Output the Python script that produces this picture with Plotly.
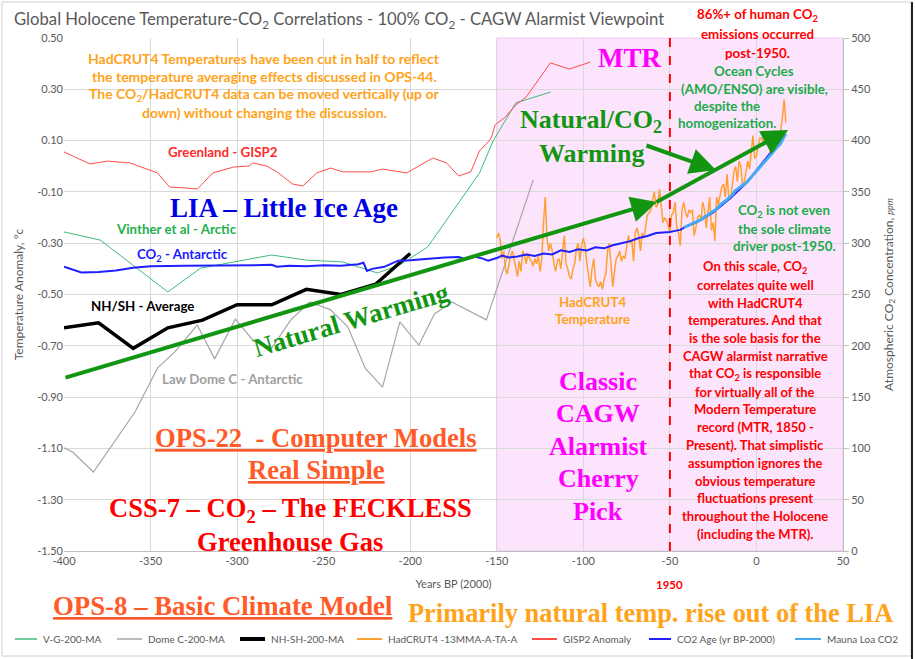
import plotly.graph_objects as go

# ---------------- DATA ----------------
# Years BP (2000): x = year - 2000
gisp2_x = [-400, -385, -375, -362, -346, -339, -329, -323, -314, -302, -293, -291, -283, -277,
           -268, -262, -254, -246, -239, -223, -216, -202, -187, -179, -172, -165, -160, -154,
           -153, -151, -145, -139, -133, -126, -119, -108, -96]
gisp2_y = [0.056, 0.009, 0.020, 0.013, -0.026, -0.081, -0.085, -0.089, -0.026, -0.003, 0.001,
           0.013, 0.001, -0.022, -0.069, -0.077, -0.026, -0.007, -0.022, -0.022, -0.011, -0.026,
           0.032, 0.013, -0.038, -0.022, 0.06, 0.102, 0.114, 0.161, 0.192, 0.239, 0.270, 0.336,
           0.403, 0.379, 0.406]

vinther_x = [-400, -379, -340, -321, -280, -260, -239, -219, -206, -190, -179, -167, -160, -152,
             -139, -119]
vinther_y = [-0.256, -0.288, -0.490, -0.397, -0.346, -0.366, -0.373, -0.416, -0.385, -0.315,
             -0.210, -0.093, -0.026, 0.100, 0.247, 0.289]

domec_x = [-400, -395, -383, -359, -346, -336, -323, -313, -301, -291, -280, -269, -258, -246,
           -236, -226, -216, -206, -195, -186, -176, -156, -129]
domec_y = [-1.098, -1.114, -1.192, -0.958, -0.787, -0.724, -0.619, -0.751, -0.596, -0.677,
           -0.709, -0.599, -0.529, -0.560, -0.627, -0.787, -0.861, -0.607, -0.697, -0.576,
           -0.529, -0.599, -0.054]

nhsh_x = [-400, -380, -360, -340, -320, -300, -280, -260, -240, -220, -200]
nhsh_y = [-0.63, -0.61, -0.71, -0.63, -0.60, -0.54, -0.54, -0.48, -0.50, -0.46, -0.34]

hadcrut_x = list(range(-150, 18))   # 1850 .. 2017
hadcrut_y = [
    -0.28, -0.26, -0.29, -0.36, -0.33, -0.40, -0.42, -0.38, -0.35, -0.33,
    -0.36, -0.40, -0.43, -0.37, -0.41, -0.33, -0.35, -0.38, -0.34, -0.36,
    -0.37, -0.39, -0.36, -0.38, -0.35, -0.41, -0.36, -0.22, -0.12, -0.28,
    -0.33, -0.30, -0.33, -0.38, -0.41, -0.37, -0.36, -0.40, -0.33, -0.27,
    -0.38, -0.40, -0.43, -0.44, -0.40, -0.38, -0.32, -0.30, -0.37, -0.31,
    -0.28, -0.31, -0.38, -0.42, -0.47, -0.40, -0.36, -0.44, -0.46, -0.47,
    -0.45, -0.48, -0.44, -0.42, -0.33, -0.30, -0.40, -0.47, -0.41, -0.36,
    -0.35, -0.33, -0.37, -0.35, -0.36, -0.32, -0.27, -0.30, -0.29, -0.37,
    -0.26, -0.24, -0.27, -0.33, -0.26, -0.28, -0.24, -0.19, -0.18, -0.17,
    -0.13, -0.10, -0.16, -0.15, -0.09, -0.16, -0.22, -0.20, -0.21, -0.23,
    -0.26, -0.19, -0.18, -0.14, -0.24, -0.26, -0.31, -0.17, -0.14, -0.18,
    -0.20, -0.17, -0.18, -0.17, -0.27, -0.24, -0.20, -0.19, -0.21, -0.14,
    -0.17, -0.24, -0.19, -0.12, -0.25, -0.22, -0.29, -0.12, -0.15, -0.11,
    -0.08, -0.07, -0.12, -0.03, -0.12, -0.13, -0.08, -0.02, 0.00, -0.06,
    0.02, 0.00, -0.08, -0.06, -0.02, 0.02, -0.01, 0.05, 0.12, 0.03,
    0.04, 0.08, 0.11, 0.11, 0.09, 0.13, 0.11, 0.12, 0.05, 0.10,
    0.14, 0.07, 0.10, 0.11, 0.14, 0.19, 0.26, 0.17]

co2_x = [-400, -395, -390, -380, -370, -360, -350, -330, -310, -290, -280, -277, -270, -260,
         -250, -240, -230, -227, -225, -222, -215, -207, -200, -190, -180, -172, -168, -163,
         -158, -155, -150, -147, -143, -138, -133, -128, -123, -118, -113, -108, -103, -98,
         -93, -88, -83, -78, -73, -68, -63, -58, -53, -50, -47, -44, -41, -35, -30, -25, -20,
         -15, -10, -5, 0, 5, 10, 15]
co2_ppm = [277, 274, 271.5, 272, 273.5, 276, 277.5, 278, 278, 278.5, 279, 277, 278, 277.5,
           278.5, 278, 279.5, 281, 273, 275, 277, 283, 283.5, 285, 286, 286.5, 284.5, 287,
           285, 283, 285.5, 288, 286, 287, 289, 287.5, 290, 289, 293, 291.5, 294, 293, 296,
           295, 298, 300, 302, 305, 307, 310, 310.5, 311, 312, 313, 316, 320, 325, 330, 337,
           344, 352, 360, 371, 381, 392, 404]

ml_x = [-42, -40, -38, -36, -34, -32, -30, -28, -26, -24, -22, -20, -18, -16, -14, -12, -10,
        -8, -6, -4, -2, 0, 2, 4, 6, 8, 10, 12, 14, 16, 17]
ml_ppm = [315.3, 316.9, 318.4, 319.6, 321.4, 323.0, 325.7, 327.5, 330.2, 332.1, 335.4, 338.8,
          341.1, 344.4, 347.2, 351.6, 354.4, 356.4, 358.8, 362.6, 366.7, 369.7, 373.5, 377.7,
          381.9, 385.6, 389.9, 393.9, 397.2, 404.2, 406.6]

x_ticks = [-400, -350, -300, -250, -200, -150, -100, -50, 0, 50]
y_ticks = [-1.5, -1.3, -1.1, -0.9, -0.7, -0.5, -0.3, -0.1, 0.1, 0.3, 0.5]
y2_ticks = [0, 50, 100, 150, 200, 250, 300, 350, 400, 450, 500]

mtr_start, mtr_end = -150, 50
line_1950 = -50

# ---------------- LAYOUT HELPERS ----------------
W, H = 915, 659
L, R, T, B = 64, 72, 38, 108
PW, PH = W - L - R, H - T - B


def pp(px, py):
    return (px - L) / PW, (H - B - py) / PH


GREY = "#595959"
SANS = "Lato"
SERIF = "Liberation Serif"
annotations = []
shapes = []


def text_lines(lines, cx, y0, dy, size, color, family=SANS, bold=True, underline=False,
               xanchor="center"):
    for i, line in enumerate(lines):
        t = line
        if bold:
            t = "<b>" + t + "</b>"
        if underline:
            t = "<u>" + t + "</u>"
        x, y = pp(cx, y0 + i * dy)
        annotations.append(dict(xref="paper", yref="paper", x=x, y=y, text=t,
                                showarrow=False, xanchor=xanchor, yanchor="middle",
                                font=dict(family=family, size=size, color=color)))


series = [
    ("V-G-200-MA", vinther_x, vinther_y, "#3dbb7a", 1, "y"),
    ("Dome C-200-MA", domec_x, domec_y, "#a6a6a6", 1.2, "y"),
    ("NH-SH-200-MA", nhsh_x, nhsh_y, "black", 3.5, "y"),
    ("HadCRUT4 -13MMA-A-TA-A", hadcrut_x, hadcrut_y, "#ffa033", 1.5, "y"),
    ("GISP2 Anomaly", gisp2_x, gisp2_y, "#ff4a4a", 1, "y"),
    ("CO2 Age (yr BP-2000)", co2_x, co2_ppm, "#1f1fff", 2, "y2"),
    ("Mauna Loa CO2", ml_x, ml_ppm, "#45aaf2", 3, "y2"),
]

fig = go.Figure()
for name, xs, ys, col, wd, ax in series:
    fig.add_trace(go.Scatter(x=xs, y=ys, name=name, mode="lines", yaxis=ax,
                             line=dict(color=col, width=wd), showlegend=False))

# custom single-row legend (line sample start px, text start px)
legend_pos = [(15, 41), (117, 146), (240, 269), (357, 386), (532, 561), (649, 675), (795, 825)]
legend_widths = [1.5, 1.5, 4, 2, 2, 2, 2]
LEG_Y = 639
for (name, xs, ys, col, wd, ax), (lx, tx), lw in zip(series, legend_pos, legend_widths):
    x0, y0 = pp(lx, LEG_Y)
    x1, _ = pp(tx - 4, LEG_Y)
    shapes.append(dict(type="line", xref="paper", yref="paper", x0=x0, x1=x1, y0=y0, y1=y0,
                       line=dict(color=col, width=lw)))
    xt, _ = pp(tx, LEG_Y)
    annotations.append(dict(xref="paper", yref="paper", x=xt, y=y0, text=name, showarrow=False,
                            xanchor="left", yanchor="middle",
                            font=dict(family=SANS, size=10, color=GREY)))

# ---- text ----
B13 = 13.3
text_lines(["Global Holocene Temperature-CO<sub>2</sub> Correlations - 100% CO<sub>2</sub> - CAGW Alarmist Viewpoint"],
           12, 20, 0, 16.7, GREY, bold=False, xanchor="left")
ORANGE = "#ffa31a"
text_lines(["HadCRUT4 Temperatures have been cut in half to reflect",
            "the temperature averaging effects discussed in OPS-44.",
            "The CO<sub>2</sub>/HadCRUT4 data can be moved vertically (up or",
            "down) without changing the discussion."], 264, 58, 18.3, 14, ORANGE)
text_lines(["Greenland - GISP2"], 223, 152, 0, B13, "#ff2a2a")
text_lines(["LIA – Little Ice Age"], 284, 208, 0, 27, "#0000e6", family=SERIF)
text_lines(["Vinther et al - Arctic"], 176, 229, 0, B13, "#22b14c")
text_lines(["CO<sub>2</sub> - Antarctic"], 182, 255, 0, B13, "#1a1aff")
text_lines(["NH/SH - Average"], 142, 306, 0, B13, "black")
text_lines(["Law Dome C - Antarctic"], 232, 379, 0, B13, "#a0a0a0")
text_lines(["HadCRUT4", "Temperature"], 592, 302, 16.5, B13, ORANGE)
text_lines(["MTR"], 629, 58, 0, 27, "#ff00ff", family=SERIF)
text_lines(["Natural/CO<sub>2</sub>", "Warming"], 591, 121, 32, 26, "#129612", family=SERIF)
text_lines(["86%+ of human CO<sub>2</sub>", "emissions occurred", "post-1950."], 757, 15, 19, B13,
           "#ff0000")
text_lines(["Ocean Cycles", "(AMO/ENSO) are visible,"], 754, 71, 17.5, B13, "#1aab4a")
text_lines(["despite the", "homogenization."], 727, 106, 16.5, B13, "#1aab4a")
text_lines(["CO<sub>2</sub> is not even", "the sole climate", "driver post-1950."], 784, 211, 17.5,
           B13, "#1aab4a")
text_lines(["On this scale, CO<sub>2</sub>", "correlates quite well", "with HadCRUT4",
            "temperatures. And that", "is the sole basis for the", "CAGW alarmist narrative",
            "that CO<sub>2</sub> is responsible", "for virtually all of the", "Modern Temperature",
            "record (MTR, 1850 -", "Present). That simplistic", "assumption ignores the",
            "obvious temperature", "fluctuations present", "throughout the Holocene",
            "(including the MTR)."], 755, 267, 17.8, 13, "#ff0000")
text_lines(["Classic", "CAGW", "Alarmist", "Cherry", "Pick"], 598, 381, 32.5, 26, "#ff00ff",
           family=SERIF)
text_lines(["OPS-22  - Computer Models", "Real Simple"], 316, 438, 32, 26.6, "#ff5a28",
           family=SERIF, underline=True)
text_lines(["CSS-7 – CO<sub>2</sub> – The FECKLESS", "Greenhouse Gas"], 290, 510, 32, 26.6,
           "#ff0000", family=SERIF)
text_lines(["OPS-8 – Basic Climate Model"], 222, 606, 0, 26.8, "#ff5a28", family=SERIF,
           underline=True)
text_lines(["Primarily natural temp. rise out of the LIA"], 650, 613, 0, 26.4, ORANGE, family=SERIF)
text_lines(["1950"], 669, 584, 0, 11.5, "#ff0000")

# rotated "Natural Warming"
nx, ny = pp(351, 320)
annotations.append(dict(xref="paper", yref="paper", x=nx, y=ny, text="<b>Natural Warming</b>",
                        showarrow=False, textangle=-16.5,
                        font=dict(family=SERIF, size=26.5, color="#129612")))

# green trend arrows (data coordinates)
GREEN = "#129612"
for tip_x, tip_y, tail_x, tail_y in [(-57.4, -0.139, -400, -0.826),
                                      (18.3, 0.141, -58.6, -0.143),
                                      (-23.4, -0.015, -64.4, 0.083)]:
    annotations.append(dict(x=tip_x, y=tip_y, ax=tail_x, ay=tail_y, xref="x", yref="y",
                            axref="x", ayref="y", text="", showarrow=True, arrowhead=2,
                            arrowsize=1.3, arrowwidth=4, arrowcolor=GREEN))

shapes += [
    dict(type="rect", xref="x", yref="paper", x0=mtr_start, x1=mtr_end, y0=0, y1=1,
         fillcolor="#fce4fc", line=dict(color="#f0c8f0", width=1), layer="below"),
    dict(type="line", xref="x", yref="paper", x0=line_1950, x1=line_1950, y0=0, y1=1,
         line=dict(color="#ff0000", width=2, dash="dash")),
]
bx0, by0 = pp(2, 656)
bx1, by1 = pp(911, 2)
shapes.append(dict(type="rect", xref="paper", yref="paper", x0=bx0, x1=bx1, y0=by0, y1=by1,
                   line=dict(color="#d0d0d0", width=1)))
rx, _ = pp(912, 0)
_, ry0 = pp(0, 659)
_, ry1 = pp(0, 2)
shapes.append(dict(type="line", xref="paper", yref="paper", x0=rx, x1=rx, y0=ry0, y1=ry1,
                   line=dict(color="#222222", width=2)))

tick_font = dict(family=SANS, size=11, color=GREY)
fig.update_layout(
    width=W, height=H,
    margin=dict(l=L, r=R, t=T, b=B, autoexpand=False),
    paper_bgcolor="white", plot_bgcolor="white",
    showlegend=False,
    xaxis=dict(range=[-400, 50], tickvals=x_ticks, ticktext=[str(v) for v in x_ticks],
               showgrid=True, gridcolor="#d9d9d9", zeroline=False, showline=True,
               linecolor="#bfbfbf", tickfont=tick_font, ticks="",
               title=dict(text="Years BP (2000)", font=dict(family=SANS, size=11, color=GREY),
                          standoff=14)),
    yaxis=dict(range=[-1.5, 0.5], tickvals=y_ticks, ticktext=[f"{v:.2f}" for v in y_ticks],
               showgrid=True, gridcolor="#d9d9d9", zeroline=False, showline=False,
               tickfont=tick_font,
               title=dict(text="Temperature Anomaly, °c", font=dict(family=SANS, size=12, color=GREY),
                          standoff=10)),
    yaxis2=dict(range=[0, 500], tickvals=y2_ticks, ticktext=[str(v) for v in y2_ticks],
                overlaying="y", side="right", showgrid=False, zeroline=False, showline=True,
                linecolor="#bfbfbf", ticks="outside", ticklen=5, tickcolor="#bfbfbf",
                tickfont=tick_font,
                title=dict(text="Atmospheric CO<sub>2</sub> Concentration, <i><span style='font-size:9px'>ppm</span></i>",
                           font=dict(family=SANS, size=12, color=GREY), standoff=14)),
    annotations=annotations,
    shapes=shapes,
)

fig.write_html("out.html", config={"displayModeBar": False},
               post_script="document.body.style.margin='0';")
